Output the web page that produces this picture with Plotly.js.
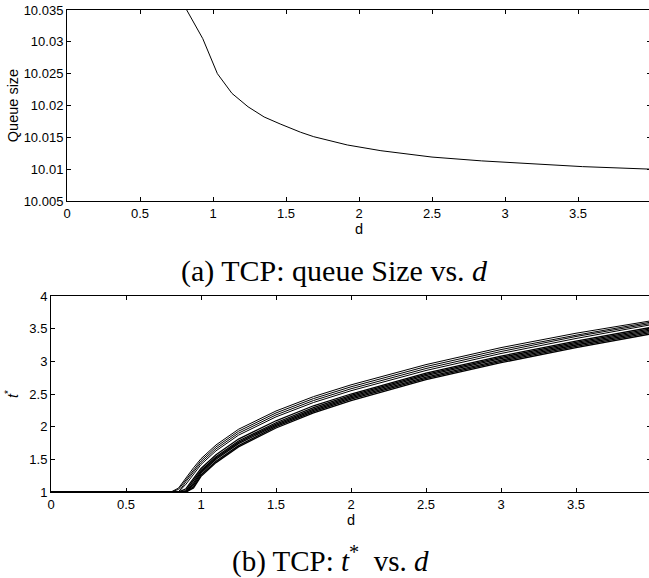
<!DOCTYPE html>
<html>
<head>
<meta charset="utf-8">
<script src="https://cdn.plot.ly/plotly-3.0.1.min.js"></script>
<style>
html,body{margin:0;padding:0;overflow:hidden;background:#fff;}
#chart{width:651px;height:578px;}
</style>
</head>
<body>
<div id="chart"></div>
<script>
// ---- (a) queue size vs d ----
const dQueue = [0.70, 0.93, 1.03, 1.13, 1.24, 1.35, 1.46, 1.60, 1.69, 1.92, 2.15, 2.50, 2.84, 3.18, 3.53, 4.00];
const queueSize = [10.0399, 10.0305, 10.0250, 10.0219, 10.0198, 10.0182, 10.0171, 10.0158, 10.0151, 10.0138, 10.0129, 10.0119, 10.0113, 10.0108, 10.0104, 10.0100];

// ---- (b) t* vs d, family of curves ----
const dT = [0, 0.80, 0.85, 0.90, 0.95, 1.00, 1.10, 1.25, 1.50, 1.75, 2.00, 2.50, 3.00, 3.50, 4.00];
const tStar1  = [1, 1, 1.06, 1.22, 1.37, 1.51, 1.72, 1.96, 2.24, 2.46, 2.64, 2.95, 3.21, 3.43, 3.62];
const tStar2  = [1, 1, 1.04, 1.19, 1.34, 1.48, 1.69, 1.93, 2.21, 2.43, 2.61, 2.92, 3.18, 3.40, 3.60];
const tStar3  = [1, 1, 1.00, 1.16, 1.31, 1.45, 1.66, 1.90, 2.18, 2.40, 2.58, 2.89, 3.15, 3.38, 3.58];
const tStar4  = [1, 1, 1.00, 1.12, 1.27, 1.42, 1.63, 1.87, 2.15, 2.37, 2.55, 2.86, 3.12, 3.35, 3.56];
const tStar5  = [1, 1, 1.00, 1.05, 1.20, 1.36, 1.57, 1.81, 2.09, 2.32, 2.50, 2.82, 3.08, 3.31, 3.52];
const tStar6  = [1, 1, 1.00, 1.02, 1.17, 1.33, 1.54, 1.78, 2.06, 2.29, 2.48, 2.80, 3.06, 3.29, 3.50];
const tStar7  = [1, 1, 1.00, 1.00, 1.14, 1.31, 1.52, 1.76, 2.04, 2.27, 2.46, 2.78, 3.04, 3.27, 3.48];
const tStar8  = [1, 1, 1.00, 1.00, 1.11, 1.29, 1.50, 1.74, 2.02, 2.25, 2.44, 2.76, 3.02, 3.25, 3.46];
const tStar9  = [1, 1, 1.00, 1.00, 1.08, 1.26, 1.47, 1.71, 2.00, 2.23, 2.42, 2.74, 3.00, 3.23, 3.44];
const tStar10 = [1, 1, 1.00, 1.00, 1.06, 1.24, 1.45, 1.69, 1.98, 2.21, 2.40, 2.72, 2.98, 3.21, 3.42];
const tStarFamily = [tStar1, tStar2, tStar3, tStar4, tStar5, tStar6, tStar7, tStar8, tStar9, tStar10];

const xTicks = [0, 0.5, 1, 1.5, 2, 2.5, 3, 3.5, 4];
const xTickText = ['0', '0.5', '1', '1.5', '2', '2.5', '3', '3.5', '4'];
const yTicksA = [10.005, 10.01, 10.015, 10.02, 10.025, 10.03, 10.035];
const yTickTextA = ['10.005', '10.01', '10.015', '10.02', '10.025', '10.03', '10.035'];
const yTicksB = [1, 1.5, 2, 2.5, 3, 3.5, 4];
const yTickTextB = ['1', '1.5', '2', '2.5', '3', '3.5', '4'];

const captionA = '(a) TCP: queue Size vs. <i>d</i>';
const captionB = '(b) TCP: <i>t</i><sup>*</sup>&nbsp; vs. <i>d</i>';
const yTitleB = '<i>t</i><sup>*</sup>';

const W = 651, H = 578;
const sans = 'Liberation Sans, Arial, Helvetica, sans-serif';
const tickFont = {family: sans, size: 13, color: '#000'};
const labelFont = {family: sans, size: 14.5, color: '#000'};

const traces = [];
traces.push({
  x: dQueue, y: queueSize, type: 'scatter', mode: 'lines',
  line: {color: '#000', width: 1}, xaxis: 'x', yaxis: 'y', hoverinfo: 'skip'
});
tStarFamily.forEach(function (ys, i) {
  traces.push({
    x: dT, y: ys, type: 'scatter', mode: 'lines',
    line: {color: '#000', width: i < 4 ? 1 : 1.3}, xaxis: 'x2', yaxis: 'y2', hoverinfo: 'skip'
  });
});

function xAxis(domainLeft, anchor) {
  return {
    domain: [domainLeft / W, 1], anchor: anchor, range: [0, 4],
    tickmode: 'array', tickvals: xTicks, ticktext: xTickText,
    ticks: 'inside', ticklen: 4, tickwidth: 1, tickcolor: '#000',
    showline: true, linecolor: '#000', linewidth: 1, mirror: 'ticks',
    showgrid: false, zeroline: false, tickfont: tickFont,
    title: {text: 'd', font: labelFont, standoff: 0}
  };
}
function yAxis(top, bottom, range, vals, txt, titleText, anchor, standoff) {
  return {
    domain: [(H - bottom) / H, (H - top) / H], anchor: anchor, range: range,
    tickmode: 'array', tickvals: vals, ticktext: txt,
    ticks: 'inside', ticklen: 4, tickwidth: 1, tickcolor: '#000',
    showline: true, linecolor: '#000', linewidth: 1, mirror: 'ticks',
    showgrid: false, zeroline: false, tickfont: tickFont,
    title: {text: titleText, font: labelFont, standoff: standoff}
  };
}

const layout = {
  width: W, height: H,
  margin: {l: 0, r: 0, t: 0, b: 0, pad: 0},
  paper_bgcolor: '#fff', plot_bgcolor: '#fff',
  showlegend: false,
  xaxis: xAxis(67, 'y'),
  yaxis: yAxis(10, 201, [10.005, 10.035], yTicksA, yTickTextA, 'Queue size', 'x', 1),
  xaxis2: xAxis(51, 'y2'),
  yaxis2: yAxis(296, 492, [1, 4], yTicksB, yTickTextB, '', 'x2', 4),
  annotations: [
    {text: yTitleB, xref: 'paper', yref: 'paper', x: 12 / W, y: (H - 394) / H,
     xanchor: 'center', yanchor: 'middle', showarrow: false, textangle: -90,
     font: labelFont},
    {text: captionA, xref: 'paper', yref: 'paper', x: 334 / W, y: (H - 271) / H,
     xanchor: 'center', yanchor: 'middle', showarrow: false,
     font: {family: 'Liberation Serif, Times New Roman, serif', size: 30, color: '#000'}},
    {text: captionB, xref: 'paper', yref: 'paper', x: 330 / W, y: (H - 559) / H,
     xanchor: 'center', yanchor: 'middle', showarrow: false,
     font: {family: 'Liberation Serif, Times New Roman, serif', size: 29, color: '#000'}}
  ]
};

Plotly.newPlot('chart', traces, layout, {displayModeBar: false, staticPlot: true});
</script>
</body>
</html>
